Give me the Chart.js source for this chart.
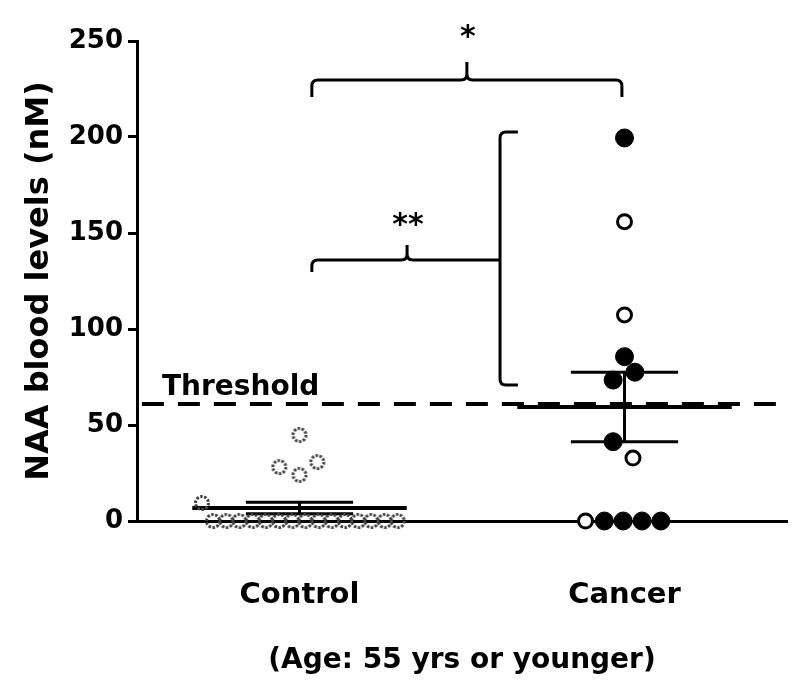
<!DOCTYPE html>
<html>
<head>
<meta charset="utf-8">
<script src="https://cdn.jsdelivr.net/npm/chart.js@4/dist/chart.umd.min.js"></script>
<style>
  body { margin: 0; background: #fff; }
  #wrap { width: 800px; height: 695px; }
</style>
</head>
<body>
<div id="wrap"><canvas id="naaChart"></canvas></div>
<script>
// groups
var categories = ['Control', 'Cancer'];
var groupTitle = '(Age: 55 yrs or younger)';
var yTitle = 'NAA blood levels (nM)';
var yTicks = [0, 50, 100, 150, 200, 250];

// control group (nM) and horizontal scatter offset inside the column
var controlValues = [44.8, 30.7, 28.1, 24.0, 9.4,
    0, 0, 0, 0, 0, 0, 0, 0, 0, 0, 0, 0, 0, 0, 0];
var controlJitter = [0, 0.055, -0.062, 0, -0.30,
    -0.266, -0.225, -0.185, -0.144, -0.104, -0.063, -0.022, 0.018,
    0.059, 0.099, 0.140, 0.181, 0.221, 0.262, 0.302];

// cancer group (nM), offset, and filled (1) or open (0) marker
var cancerValues = [199.5, 155.9, 107.3, 85.6, 77.5, 73.4, 41.3, 32.8, 0, 0, 0, 0, 0];
var cancerJitter = [0, 0, 0, 0, 0.032, -0.035, -0.035, 0.026, -0.12, -0.062, -0.004, 0.054, 0.112];
var cancerFilled = [1, 0, 0, 1, 1, 1, 1, 0, 0, 1, 1, 1, 1];

// mean and SEM per group
var meanValues = [6.8, 59.4];
var semValues = [3.0, 18.1];

var threshold = 61;

Chart.defaults.font.family = 'DejaVu Sans';
Chart.defaults.color = '#000';

// dotted grey ring used for the control markers
function dottedRing() {
    var c = document.createElement('canvas');
    c.width = 18; c.height = 18;
    var g = c.getContext('2d');
    g.strokeStyle = '#444';
    g.lineWidth = 3;
    g.setLineDash([2.5, 1.5]);
    g.beginPath();
    g.arc(9, 9, 6.5, 0, Math.PI * 2);
    g.stroke();
    return c;
}

var controlPoints = controlValues.map(function (v, i) {
    return { x: 1 + controlJitter[i], y: v };
});
var cancerPoints = cancerValues.map(function (v, i) {
    return { x: 2 + cancerJitter[i], y: v };
});

var meanSegs = [], semSegs = [];
meanValues.forEach(function (m, i) {
    var cx = i + 1, s = semValues[i];
    meanSegs.push({ x: cx - 0.33, y: m }, { x: cx + 0.33, y: m }, { x: cx, y: null });
    semSegs.push({ x: cx - 0.165, y: m + s }, { x: cx + 0.165, y: m + s }, { x: cx, y: null });
    semSegs.push({ x: cx - 0.165, y: m - s }, { x: cx + 0.165, y: m - s }, { x: cx, y: null });
    semSegs.push({ x: cx, y: m - s }, { x: cx, y: m + s }, { x: cx, y: null });
});

function drawBracket(ctx, left, right, mid, barY, endY, tipY, rightHook) {
    var r = 6;
    ctx.beginPath();
    ctx.moveTo(left, endY);
    ctx.lineTo(left, barY + r);
    ctx.quadraticCurveTo(left, barY, left + r, barY);
    ctx.lineTo(mid - r, barY);
    ctx.quadraticCurveTo(mid, barY, mid, barY - r);
    ctx.lineTo(mid, tipY);
    ctx.moveTo(mid, barY - r);
    ctx.quadraticCurveTo(mid, barY, mid + r, barY);
    if (rightHook) {
        ctx.lineTo(right - r, barY);
        ctx.quadraticCurveTo(right, barY, right, barY + r);
        ctx.lineTo(right, endY);
    } else {
        ctx.lineTo(right, barY);
    }
    ctx.stroke();
}

var annotations = {
    id: 'annotations',
    afterDatasetsDraw: function (chart) {
        var ctx = chart.ctx;
        var x = chart.scales.x, y = chart.scales.y;
        var px = function (v) { return x.getPixelForValue(v); };
        var py = function (v) { return y.getPixelForValue(v); };
        ctx.save();
        ctx.strokeStyle = '#000';
        ctx.lineWidth = 3;
        ctx.lineJoin = 'round';

        // Control vs Cancer (*)
        drawBracket(ctx, px(1.038), px(1.992), px(1.515), py(229.7), py(220.8), py(239.1), true);
        // Control vs Cancer above threshold (**)
        drawBracket(ctx, px(1.038), px(1.617), px(1.331), py(135.9), py(129.7), py(143.8), false);
        // vertical bracket spanning the high cancer values
        var bx = px(1.617), hx = px(1.672), r = 6;
        ctx.beginPath();
        ctx.moveTo(hx, py(202.6));
        ctx.lineTo(bx + r, py(202.6));
        ctx.quadraticCurveTo(bx, py(202.6), bx, py(202.6) + r);
        ctx.lineTo(bx, py(70.8) - r);
        ctx.quadraticCurveTo(bx, py(70.8), bx + r, py(70.8));
        ctx.lineTo(hx, py(70.8));
        ctx.stroke();

        ctx.fillStyle = '#000';
        ctx.textAlign = 'center';
        ctx.textBaseline = 'alphabetic';
        ctx.font = 'bold 30px "DejaVu Sans"';
        ctx.fillText('*', px(1.518), py(256.8) + 18);
        ctx.fillText('**', px(1.334), py(158.3) + 17);

        ctx.textAlign = 'left';
        ctx.font = 'bold 28px "DejaVu Sans"';
        ctx.fillText('Threshold', px(0.577), py(65.6));
        ctx.restore();
    }
};

var ctx = document.getElementById('naaChart');
new Chart(ctx, {
    type: 'scatter',
    data: {
        datasets: [
            {
                label: 'Cancer',
                data: cancerPoints,
                pointStyle: 'circle',
                pointRadius: cancerFilled.map(function (f) { return f ? 9 : 7; }),
                pointBorderWidth: cancerFilled.map(function (f) { return f ? 1 : 3; }),
                pointBackgroundColor: cancerFilled.map(function (f) { return f ? '#000' : '#fff'; }),
                pointBorderColor: '#000',
                clip: false
            },
            {
                label: 'Control',
                data: controlPoints,
                pointStyle: dottedRing(),
                pointRadius: 9,
                clip: false
            },
            {
                label: 'Threshold',
                data: [{ x: 0.515, y: threshold }, { x: 2.47, y: threshold }],
                showLine: true,
                borderColor: '#000',
                borderWidth: 4,
                borderDash: [22, 14],
                pointRadius: 0,
                clip: false
            },
            {
                label: 'Mean',
                data: meanSegs,
                showLine: true,
                spanGaps: false,
                borderColor: '#000',
                borderWidth: 4,
                pointRadius: 0,
                clip: false
            },
            {
                label: 'SEM',
                data: semSegs,
                showLine: true,
                spanGaps: false,
                borderColor: '#000',
                borderWidth: 3,
                pointRadius: 0,
                clip: false
            }
        ]
    },
    options: {
        responsive: true,
        maintainAspectRatio: false,
        animation: false,
        layout: { padding: { left: 0, right: 13, top: 41, bottom: 0 } },
        plugins: {
            legend: { display: false },
            tooltip: { enabled: false }
        },
        scales: {
            x: {
                type: 'linear',
                min: 0.5,
                max: 2.5,
                afterBuildTicks: function (scale) {
                    scale.ticks = categories.map(function (c, i) { return { value: i + 1 }; });
                },
                afterFit: function (scale) { scale.height = 174; },
                ticks: {
                    padding: 57,
                    font: { size: 29, weight: 'bold' },
                    callback: function (v) { return categories[v - 1]; }
                },
                grid: { display: false, drawTicks: false },
                border: { color: '#000', width: 3 },
                title: {
                    display: true,
                    text: groupTitle,
                    font: { size: 28, weight: 'bold' },
                    padding: { top: 0, bottom: 17 }
                }
            },
            y: {
                min: 0,
                max: 250,
                afterBuildTicks: function (scale) {
                    scale.ticks = yTicks.map(function (v) { return { value: v }; });
                },
                afterFit: function (scale) { scale.width = 137; },
                ticks: {
                    padding: 5,
                    font: { size: 26, weight: 'bold' }
                },
                grid: {
                    drawOnChartArea: false,
                    tickLength: 9,
                    tickWidth: 3,
                    tickColor: '#000'
                },
                border: { color: '#000', width: 3 },
                title: {
                    display: true,
                    text: yTitle,
                    font: { size: 32, weight: 'bold' },
                    padding: { top: 20, bottom: 0 }
                }
            }
        }
    },
    plugins: [annotations]
});
</script>
</body>
</html>
